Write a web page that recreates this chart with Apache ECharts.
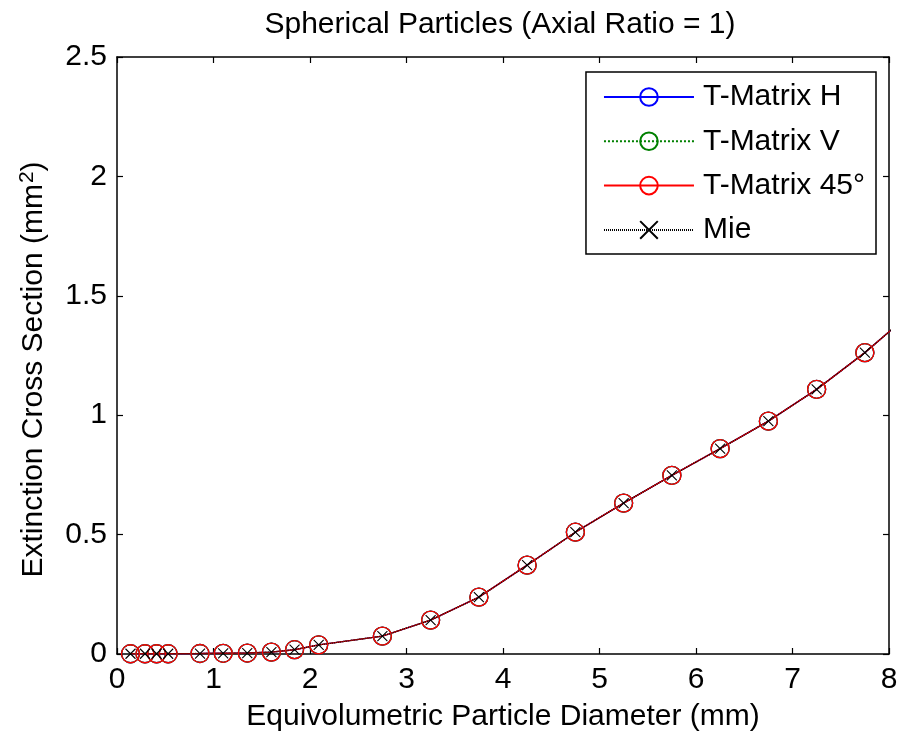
<!DOCTYPE html>
<html>
<head>
<meta charset="utf-8">
<script src="https://cdn.jsdelivr.net/npm/echarts@6/dist/echarts.min.js"></script>
<style>
  html, body { margin: 0; padding: 0; background: #fff; }
  #chart { width: 904px; height: 739px; }
</style>
</head>
<body>
<div id="chart"></div>
<script>
// equivolumetric diameter (mm)
var diam = [0.14, 0.29, 0.41, 0.53, 0.86, 1.10, 1.35, 1.60, 1.84, 2.09, 2.75,
  3.25, 3.75, 4.25, 4.75, 5.25, 5.75, 6.25, 6.75, 7.25, 7.75, 8.25]
// extinction cross section (mm^2)
var tmatH = [0.001, 0.001, 0.001, 0.001, 0.002, 0.003, 0.004, 0.008, 0.018, 0.038, 0.075,
  0.142, 0.238, 0.372, 0.51, 0.632, 0.748, 0.86, 0.975, 1.108, 1.262, 1.436]
var tmatV = [0.001, 0.001, 0.001, 0.001, 0.002, 0.003, 0.004, 0.008, 0.018, 0.038, 0.075,
  0.142, 0.238, 0.372, 0.51, 0.632, 0.748, 0.86, 0.975, 1.108, 1.262, 1.436]
var tmat45 = [0.001, 0.001, 0.001, 0.001, 0.002, 0.003, 0.004, 0.008, 0.018, 0.038, 0.075,
  0.142, 0.238, 0.372, 0.51, 0.632, 0.748, 0.86, 0.975, 1.108, 1.262, 1.436]
var mie = [0.001, 0.001, 0.001, 0.001, 0.002, 0.003, 0.004, 0.008, 0.018, 0.038, 0.075,
  0.142, 0.238, 0.372, 0.51, 0.632, 0.748, 0.86, 0.975, 1.108, 1.262, 1.436]
var xTicks = [0, 1, 2, 3, 4, 5, 6, 7, 8]
var yTicks = [0, 0.5, 1, 1.5, 2, 2.5]

var FONT = '"Liberation Sans", Arial, sans-serif'
var FS = 30

function pairs (ys) {
  return diam.map(function (x, i) { return [x, ys[i]] })
}

function circleSeries (name, ys, color, lineType) {
  return {
    name: name,
    type: 'line',
    data: pairs(ys),
    symbol: 'circle',
    symbolSize: 18,
    showSymbol: true,
    lineStyle: { color: color, width: 1.4, type: lineType },
    itemStyle: { color: 'rgba(0,0,0,0)', borderColor: color, borderWidth: 1.3 },
    emphasis: { disabled: true },
    animation: false
  }
}

var chart = echarts.init(document.getElementById('chart'))

var option = {
  backgroundColor: '#fff',
  textStyle: { fontFamily: FONT },
  title: {
    text: 'Spherical Particles (Axial Ratio = 1)',
    left: 500,
    top: 10,
    textAlign: 'center',
    padding: 0,
    textStyle: { fontFamily: FONT, fontSize: FS, fontWeight: 'normal', color: '#000' }
  },
  legend: {
    orient: 'vertical',
    right: 28,
    top: 72,
    backgroundColor: '#fff',
    borderColor: '#000',
    borderWidth: 1.5,
    padding: [10, 11, 9, 17],
    itemWidth: 90,
    itemHeight: 22,
    itemGap: 14.3,
    textStyle: { fontFamily: FONT, fontSize: FS, color: '#000', padding: [0, 0, 0, 4] },
    data: ['T-Matrix H', 'T-Matrix V', 'T-Matrix 45°', 'Mie']
  },
  grid: { left: 117, right: 15, top: 57, bottom: 85, containLabel: false },
  xAxis: [{
    type: 'value',
    min: xTicks[0],
    max: xTicks[xTicks.length - 1],
    interval: 1,
    name: 'Equivolumetric Particle Diameter (mm)',
    nameLocation: 'middle',
    nameGap: 48,
    nameTextStyle: { fontFamily: FONT, fontSize: FS, color: '#000' },
    axisLine: { show: true, onZero: false, lineStyle: { color: '#000', width: 1.5 } },
    axisTick: { show: true, inside: true, length: 6, lineStyle: { color: '#000', width: 1.2 } },
    axisLabel: { fontFamily: FONT, fontSize: FS, color: '#000', margin: 11 },
    splitLine: { show: false }
  }, {
    type: 'value',
    position: 'top',
    min: xTicks[0],
    max: xTicks[xTicks.length - 1],
    interval: 1,
    axisLine: { show: true, onZero: false, lineStyle: { color: '#000', width: 1.5 } },
    axisTick: { show: true, inside: true, length: 6, lineStyle: { color: '#000', width: 1.2 } },
    axisLabel: { show: false },
    splitLine: { show: false }
  }],
  yAxis: [{
    type: 'value',
    min: yTicks[0],
    max: yTicks[yTicks.length - 1],
    interval: 0.5,
    name: 'Extinction Cross Section (mm{sup|2})',
    nameLocation: 'middle',
    nameGap: 67,
    nameTextStyle: {
      fontFamily: FONT, fontSize: FS, color: '#000', padding: [0, 28, 0, 0],
      rich: { sup: { fontFamily: FONT, fontSize: 21, color: '#000', verticalAlign: 'top', padding: [0, 0, 12, 1] } }
    },
    axisLine: { show: true, onZero: false, lineStyle: { color: '#000', width: 1.5 } },
    axisTick: { show: true, inside: true, length: 6, lineStyle: { color: '#000', width: 1.2 } },
    axisLabel: { fontFamily: FONT, fontSize: FS, color: '#000', margin: 10 },
    splitLine: { show: false }
  }, {
    type: 'value',
    position: 'right',
    min: yTicks[0],
    max: yTicks[yTicks.length - 1],
    interval: 0.5,
    axisLine: { show: true, onZero: false, lineStyle: { color: '#000', width: 1.5 } },
    axisTick: { show: true, inside: true, length: 6, lineStyle: { color: '#000', width: 1.2 } },
    axisLabel: { show: false },
    splitLine: { show: false }
  }],
  series: [
    circleSeries('T-Matrix H', tmatH, '#0000ff', 'solid'),
    circleSeries('T-Matrix V', tmatV, '#008000', 'dotted'),
    circleSeries('T-Matrix 45°', tmat45, '#ff0000', 'solid'),
    {
      name: 'Mie',
      type: 'line',
      data: pairs(mie),
      symbol: 'path://M0,0L10,10M10,0L0,10',
      symbolSize: 10,
      lineStyle: { color: '#000', width: 1.2, type: [1, 1] },
      itemStyle: { color: 'rgba(0,0,0,0)', borderColor: '#000', borderWidth: 1.1 },
      emphasis: { disabled: true },
      animation: false
    }
  ]
}

chart.setOption(option)
window.addEventListener('resize', function () { chart.resize() })
</script>
</body>
</html>
